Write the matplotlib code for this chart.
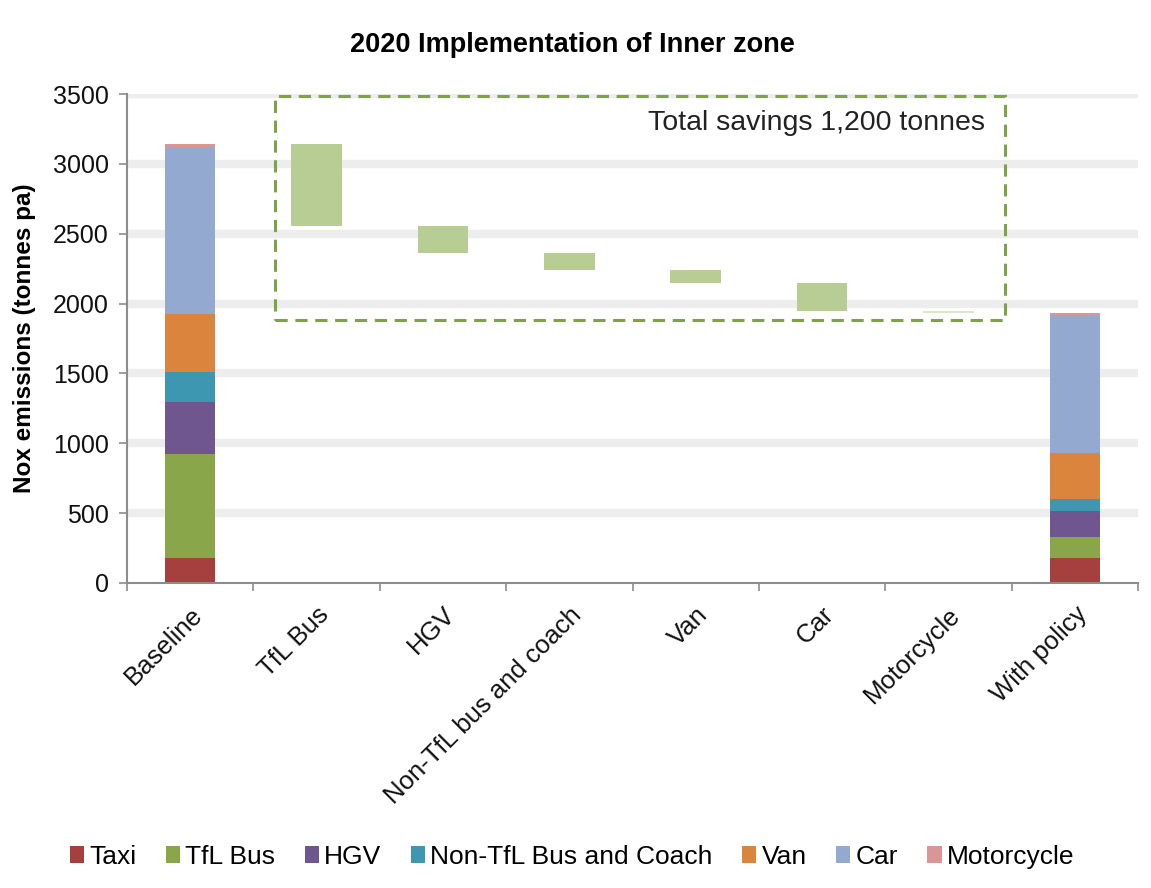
import matplotlib
matplotlib.use("Agg")
import matplotlib.pyplot as plt
from matplotlib.patches import Rectangle, Patch
import numpy as np

plt.rcParams['font.family'] = ['Liberation Sans', 'DejaVu Sans']

title = "2020 Implementation of Inner zone"
ylabel = "Nox emissions (tonnes pa)"
x_labels = ["Baseline", "TfL Bus", "HGV", "Non-TfL bus and coach", "Van", "Car",
            "Motorcycle", "With policy"]
series_names = ["Taxi", "TfL Bus", "HGV", "Non-TfL Bus and Coach", "Van", "Car", "Motorcycle"]
series_colors = ["#A5403E", "#8AA64B", "#70568E", "#3E97B0", "#DB843D", "#93A9D0", "#D99694"]
baseline = [179, 742, 372, 215, 417, 1193, 24]
with_policy = [179, 152, 182, 90, 327, 990, 16]
# savings per vehicle type (waterfall), order: TfL Bus, HGV, Non-TfL, Van, Car, Motorcycle
savings = [590, 190, 125, 90, 203, 8]
saving_color = "#B8CD94"
annotation = "Total savings 1,200 tonnes"

W, H = 1151, 888
fig = plt.figure(figsize=(W / 100, H / 100), dpi=100)
ax = fig.add_axes([127 / W, 1 - 583 / H, (1138 - 127) / W, (583 - 94) / H])

ax.set_xlim(-0.5, len(x_labels) - 0.5)
ax.set_ylim(0, 3500)

# gridlines as light bands
for yv in range(500, 3501, 500):
    ax.axhline(yv, color="#EDEDED", lw=6, zorder=0.5)

bw = 0.4
# stacked bars
for pos, vals in [(0, baseline), (len(x_labels) - 1, with_policy)]:
    bottom = 0
    for v, c in zip(vals, series_colors):
        ax.bar(pos, v, bw, bottom=bottom, color=c, zorder=2, linewidth=0)
        bottom += v

# waterfall
level = sum(baseline)
for i, s in enumerate(savings):
    col = saving_color if i < len(savings) - 1 else "#DCE6CC"
    ax.bar(i + 1, s, bw, bottom=level - s, color=col, zorder=2, linewidth=0)
    level -= s

# dashed box
box = Rectangle((0.67, 1882), 6.446 - 0.67, 3486 - 1882, fill=False,
                edgecolor="#7DA347", lw=2.2, linestyle=(0, (4, 2.5)), zorder=3,
                clip_on=False)
ax.add_patch(box)
ax.text(6.29, 3290, annotation, ha="right", va="center", fontsize=20.5,
        color="#222222", zorder=4)

# axes styling
for sp in ["top", "right"]:
    ax.spines[sp].set_visible(False)
for sp in ["left", "bottom"]:
    ax.spines[sp].set_color("#8C8C8C")
    ax.spines[sp].set_linewidth(1.5)

ax.set_yticks(range(0, 3501, 500))
ax.tick_params(axis="y", direction="out", length=6, color="#8C8C8C", width=1.2,
               labelsize=18, pad=7, labelcolor="#111111")
ax.set_xticks(range(len(x_labels)))
ax.set_xticklabels(x_labels, rotation=45, ha="right", va="top",
                   rotation_mode="anchor", fontsize=18.5, color="#111111")
ax.tick_params(axis="x", which="major", length=0, pad=14)
ax.set_xticks(np.arange(-0.5, len(x_labels), 1), minor=True)
ax.tick_params(axis="x", which="minor", direction="out", length=6,
               color="#8C8C8C", width=1.2)

ax.set_ylabel(ylabel, fontsize=17.5, fontweight="bold", labelpad=12)
fig.text(0.497, 1 - 45 / H, title, ha="center", va="center", fontsize=19.5,
         fontweight="bold")

handles = [Patch(facecolor=c, edgecolor="none") for c in series_colors]
fig.legend(handles, series_names, loc="center", bbox_to_anchor=(0.497, 1 - 857 / H),
           ncol=7, frameon=False, fontsize=19, handlelength=0.55, handleheight=0.6,
           handletextpad=0.2, columnspacing=1.1)

fig.savefig("out.png", dpi=100)
